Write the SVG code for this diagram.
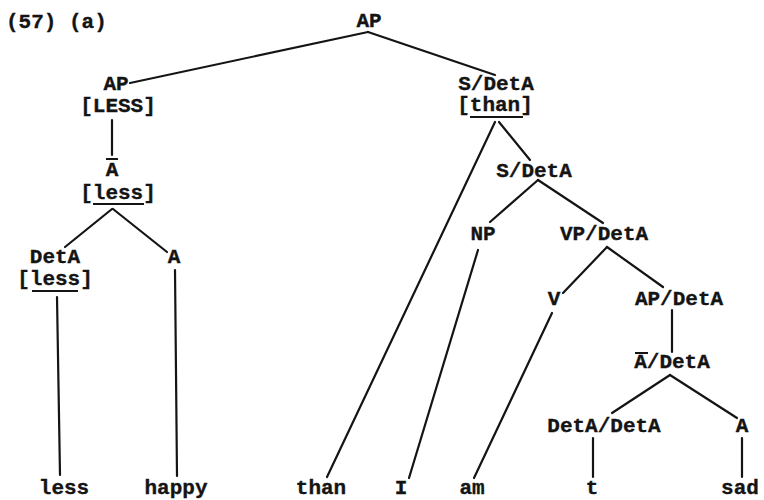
<svg xmlns="http://www.w3.org/2000/svg" width="764" height="500" viewBox="0 0 764 500">
  <style>
    text { font-family: "Liberation Mono", "DejaVu Sans Mono", monospace; font-size: 21px; font-weight: bold; fill: #141414; stroke: #141414; stroke-width: 0.35; text-anchor: middle; }
    .edge { stroke: #141414; stroke-width: 2.2; stroke-linecap: round; fill: none; }
    .rule { stroke: #141414; stroke-width: 2; fill: none; }
  </style>
  <rect width="764" height="500" fill="#ffffff"/>

  <text x="6" y="28" style="text-anchor:start">(57) (a)</text>

  <!-- connectors -->
  <g id="edges">
    <line class="edge" x1="368" y1="32" x2="130" y2="83"/>
    <line class="edge" x1="368" y1="32" x2="495" y2="75"/>
    <line class="edge" x1="112" y1="120" x2="112" y2="155"/>
    <line class="edge" x1="112" y1="209" x2="65" y2="247"/>
    <line class="edge" x1="113" y1="209" x2="167" y2="252"/>
    <line class="edge" x1="57" y1="297" x2="60" y2="475"/>
    <line class="edge" x1="175" y1="270" x2="177" y2="476"/>
    <line class="edge" x1="495" y1="122" x2="327" y2="477"/>
    <line class="edge" x1="499" y1="122" x2="530" y2="160"/>
    <line class="edge" x1="538" y1="180" x2="490" y2="222"/>
    <line class="edge" x1="538" y1="180" x2="603" y2="223"/>
    <line class="edge" x1="478" y1="250" x2="409" y2="478"/>
    <line class="edge" x1="607" y1="247" x2="563" y2="293"/>
    <line class="edge" x1="607" y1="247" x2="663" y2="287"/>
    <line class="edge" x1="552" y1="313" x2="474" y2="478"/>
    <line class="edge" x1="672" y1="310" x2="672" y2="352"/>
    <line class="edge" x1="670" y1="375" x2="612" y2="413"/>
    <line class="edge" x1="670" y1="375" x2="737" y2="418"/>
    <line class="edge" x1="593" y1="438" x2="593" y2="477"/>
    <line class="edge" x1="742" y1="438" x2="742" y2="477"/>
  </g>

  <!-- nodes -->
  <g id="n-ap-root"><text x="369" y="27">AP</text></g>
  <g id="n-ap-less">
    <text x="116" y="90">AP</text>
    <text x="118" y="112">[LESS]</text>
  </g>
  <g id="n-abar-less">
    <text x="112" y="176">A</text>
    <line class="rule" x1="106" y1="159" x2="118" y2="159"/>
    <text x="118" y="199">[less]</text>
    <line class="rule" x1="93" y1="204" x2="144" y2="204"/>
  </g>
  <g id="n-deta-less">
    <text x="55" y="263">DetA</text>
    <text x="55" y="285">[less]</text>
    <line class="rule" x1="32" y1="291" x2="78" y2="291"/>
  </g>
  <g id="n-a1"><text x="174" y="263">A</text></g>
  <g id="n-s-deta-than">
    <text x="496" y="90">S/DetA</text>
    <text x="495" y="111">[than]</text>
    <line class="rule" x1="470" y1="117" x2="523" y2="117"/>
  </g>
  <g id="n-s-deta"><text x="534" y="177">S/DetA</text></g>
  <g id="n-np"><text x="483" y="240">NP</text></g>
  <g id="n-vp-deta"><text x="604" y="240">VP/DetA</text></g>
  <g id="n-v"><text x="554" y="305">V</text></g>
  <g id="n-ap-deta"><text x="679" y="305">AP/DetA</text></g>
  <g id="n-abar-deta">
    <text x="672" y="368">A/DetA</text>
    <line class="rule" x1="635" y1="353" x2="648" y2="353"/>
  </g>
  <g id="n-deta-deta"><text x="604" y="432">DetA/DetA</text></g>
  <g id="n-a2"><text x="742" y="432">A</text></g>

  <!-- leaves -->
  <g id="w-less"><text x="64" y="494">less</text></g>
  <g id="w-happy"><text x="176" y="494">happy</text></g>
  <g id="w-than"><text x="321" y="494">than</text></g>
  <g id="w-i"><text x="401" y="494">I</text></g>
  <g id="w-am"><text x="472" y="494">am</text></g>
  <g id="w-t"><text x="592" y="494">t</text></g>
  <g id="w-sad"><text x="740" y="494">sad</text></g>
</svg>
